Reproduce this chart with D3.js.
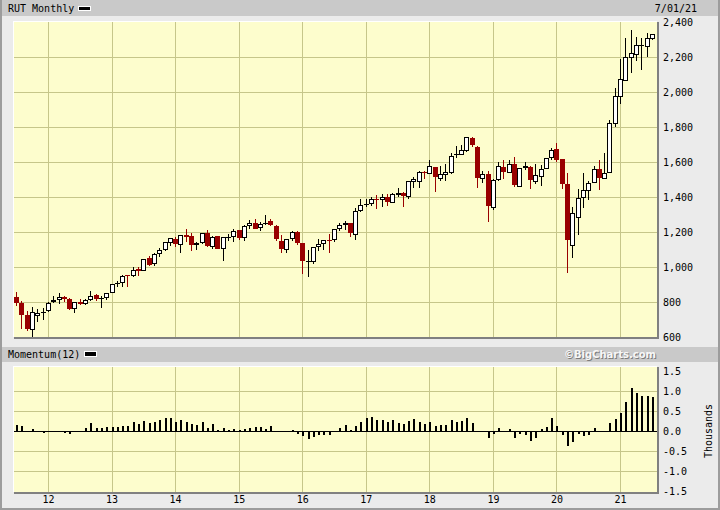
<!DOCTYPE html>
<html><head><meta charset="utf-8">
<script src="https://cdn.jsdelivr.net/npm/d3@7"></script>
<style>body{margin:0;background:#ebebeb}svg{display:block}</style>
</head><body><svg id="c" width="720" height="510"></svg>
<script>
const title = "RUT Monthly";
const dateLabel = "7/01/21";
const indicatorTitle = "Momentum(12)";
const credit = "\u00A9BigCharts.com";
const unitLabel = "Thousands";
const firstMonth = [2011, 6];   // July 2011
const lastMonth = [2021, 6];    // July 2021
const opens = [827,797,727,641,722,737,
 750,798,813,829,817,760,798,788,811,838,819,823,
 850,905,911,952,948,990,979,1053,1017,1074,1097,1139,
 1158,1126,1183,1177,1127,1135,1193,1116,1177,1101,1173,1170,
 1211,1164,1234,1250,1221,1248,1261,1234,1150,1097,1158,1202,
 1135,1030,1030,1113,1130,1154,1154,1215,1238,1250,1183,1322,
 1358,1358,1389,1383,1402,1364,1411,1425,1402,1484,1488,1541,
 1530,1570,1505,1524,1535,1638,1640,1665,1735,1688,1505,1531,
 1335,1497,1570,1535,1587,1459,1568,1570,1488,1516,1558,1621,
 1674,1615,1474,1122,1278,1393,1436,1478,1558,1501,1535,1815,
 1970,2065,2192,2211,2262,2259,2301];
const highs = [858,806,750,770,762,765,
 802,834,850,834,822,800,820,819,865,845,832,852,
 903,921,954,955,1002,1002,1045,1065,1082,1111,1142,1167,
 1170,1183,1215,1193,1145,1193,1213,1180,1180,1173,1186,1220,
 1211,1240,1266,1275,1260,1297,1273,1240,1185,1162,1205,1205,
 1135,1100,1114,1160,1154,1190,1220,1250,1264,1250,1340,1388,
 1387,1400,1411,1419,1419,1425,1450,1430,1491,1515,1550,1550,
 1611,1570,1580,1590,1650,1690,1700,1742,1742,1690,1550,1550,
 1505,1598,1610,1610,1630,1567,1600,1575,1590,1585,1625,1680,
 1707,1620,1535,1345,1444,1535,1490,1580,1610,1650,1840,2021,
 2187,2307,2354,2316,2310,2340,2330];
const lows = [777,648,636,602,686,697,
 745,793,789,798,754,737,781,781,805,806,764,812,
 850,887,885,884,941,947,979,1005,1008,1060,1090,1120,
 1115,1078,1145,1093,1100,1130,1116,1105,1101,1036,1150,1140,
 1155,1150,1220,1215,1205,1240,1234,1150,1080,1080,1148,1125,
 960,943,1015,1090,1100,1078,1140,1205,1209,1170,1154,1316,
 1345,1350,1330,1345,1351,1364,1400,1345,1390,1450,1450,1505,
 1530,1430,1490,1490,1530,1625,1640,1660,1685,1450,1478,1259,
 1326,1493,1505,1535,1455,1455,1555,1445,1475,1460,1558,1610,
 1600,1444,964,1050,1183,1335,1385,1478,1440,1501,1535,1800,
 1930,2065,2110,2175,2126,2200,2300];
const closes = [797,727,644,741,737,741,
 792,810,830,816,762,798,787,812,837,819,821,849,
 902,911,951,947,984,977,1045,1011,1074,1100,1142,1164,
 1130,1183,1173,1127,1135,1193,1120,1174,1101,1173,1173,1205,
 1165,1233,1252,1220,1247,1254,1239,1159,1101,1162,1198,1136,
 1035,1034,1114,1130,1154,1152,1220,1240,1252,1192,1322,1357,
 1362,1387,1386,1400,1370,1415,1425,1405,1491,1503,1544,1536,
 1575,1512,1529,1542,1634,1643,1671,1741,1696,1511,1533,1349,
 1499,1576,1540,1591,1466,1567,1575,1495,1523,1562,1625,1668,
 1614,1476,1153,1310,1394,1441,1480,1561,1507,1538,1820,1975,
 2073,2201,2221,2266,2268,2311,2330];
const momentum = [0.146,0.125,-0.032,0.038,0.010,-0.043,
 -0.006,-0.013,-0.014,-0.049,-0.073,-0.029,-0.010,0.085,0.193,0.078,0.084,0.108,
 0.110,0.101,0.121,0.131,0.222,0.179,0.258,0.199,0.237,0.281,0.321,0.315,
 0.228,0.272,0.222,0.180,0.151,0.216,0.075,0.163,0.027,0.073,0.031,0.041,
 0.035,0.050,0.079,0.093,0.112,0.061,0.119,-0.015,0.000,-0.011,0.025,-0.069,
 -0.130,-0.199,-0.138,-0.090,-0.093,-0.102,-0.019,0.081,0.151,0.030,0.124,0.221,
 0.327,0.353,0.272,0.270,0.216,0.263,0.205,0.165,0.239,0.311,0.222,0.179,
 0.213,0.125,0.143,0.142,0.264,0.228,0.246,0.336,0.205,0.008,-0.011,-0.187,
 -0.076,0.064,0.011,0.049,-0.168,-0.076,-0.096,-0.246,-0.173,0.051,0.092,0.319,
 0.115,-0.100,-0.387,-0.281,-0.072,-0.126,-0.095,0.066,-0.016,-0.024,0.195,0.307,
 0.459,0.725,1.068,0.956,0.874,0.870,0.850];
const priceTicks = [600,800,1000,1200,1400,1600,1800,2000,2200,2400];
const momTicks = [-1.5,-1.0,-0.5,0.0,0.5,1.0,1.5];
const yearLabels = ["12","13","14","15","16","17","18","19","20","21"];

const months = d3.timeMonth.range(new Date(firstMonth[0], firstMonth[1], 1), new Date(lastMonth[0], lastMonth[1] + 1, 1));
const key = d3.timeFormat("%Y-%m");
const data = months.map((m, i) => ({k: key(m), o: opens[i], h: highs[i], l: lows[i], c: closes[i], m: momentum[i]}));

const svg = d3.select("#c");
const FONT = "'DejaVu Sans Mono', monospace";
const gridCol = "#c6c68a";
const red = "#990000";
const plotBg = "#fdfdcd";

const P = {x0: 14, x1: 657, y0: 22, y1: 337};
const M = {x0: 14, x1: 657, y0: 367, y1: 492};

const x = d3.scalePoint().domain(data.map(d => d.k)).range([16.2, 651.8]);
const y = d3.scaleLinear().domain([600, 2400]).range([337, 22]);
const ym = d3.scaleLinear().domain([-1.5, 1.5]).range([491, 371]);

// background & frame
svg.append("rect").attr("width", 720).attr("height", 510).attr("fill", "#ebebeb");
svg.append("rect").attr("x", 0).attr("y", 0).attr("width", 2).attr("height", 510).attr("fill", "#9c9c9c");
svg.append("rect").attr("x", 718).attr("y", 0).attr("width", 2).attr("height", 510).attr("fill", "#9c9c9c");
svg.append("rect").attr("x", 0).attr("y", 508).attr("width", 720).attr("height", 2).attr("fill", "#9c9c9c");
svg.append("rect").attr("x", 2).attr("y", 0).attr("width", 716).attr("height", 16).attr("fill", "#c9c9c9");
svg.append("rect").attr("x", 2).attr("y", 347).attr("width", 716).attr("height", 15).attr("fill", "#c9c9c9");

function panel(R) {
  svg.append("rect").attr("x", R.x0 - 1).attr("y", R.y0 - 1).attr("width", R.x1 - R.x0 + 1).attr("height", R.y1 - R.y0 + 1).attr("fill", "#ffffff");
  svg.append("rect").attr("x", R.x0).attr("y", R.y1).attr("width", R.x1 - R.x0 + 2).attr("height", 2).attr("fill", "#808080");
  svg.append("rect").attr("x", R.x1).attr("y", R.y0).attr("width", 2).attr("height", R.y1 - R.y0 + 2).attr("fill", "#808080");
  svg.append("rect").attr("x", R.x0).attr("y", R.y0).attr("width", R.x1 - R.x0).attr("height", R.y1 - R.y0).attr("fill", plotBg);
}
panel(P); panel(M);

const yearKeys = yearLabels.map(s => "20" + s + "-01");

// grid main
const gMain = svg.append("g");
gMain.selectAll("line.h").data(priceTicks.filter(t => t > 600 && t < 2400)).join("line")
  .attr("x1", P.x0).attr("x2", P.x1).attr("y1", d => Math.round(y(d)) + 0.5).attr("y2", d => Math.round(y(d)) + 0.5)
  .attr("stroke", gridCol).attr("stroke-width", 1);
gMain.selectAll("line.v").data(yearKeys).join("line")
  .attr("x1", d => Math.round(x(d)) + 0.5).attr("x2", d => Math.round(x(d)) + 0.5).attr("y1", P.y0).attr("y2", P.y1)
  .attr("stroke", gridCol).attr("stroke-width", 1);

// grid momentum
const gMom = svg.append("g");
gMom.selectAll("line.h").data(momTicks.filter(t => t !== 0 && Math.abs(t) < 1.5)).join("line")
  .attr("x1", M.x0).attr("x2", M.x1).attr("y1", d => Math.round(ym(d)) + 0.5).attr("y2", d => Math.round(ym(d)) + 0.5)
  .attr("stroke", gridCol).attr("stroke-width", 1);
gMom.selectAll("line.v").data(yearKeys).join("line")
  .attr("x1", d => Math.round(x(d)) + 0.5).attr("x2", d => Math.round(x(d)) + 0.5).attr("y1", M.y0).attr("y2", M.y1)
  .attr("stroke", gridCol).attr("stroke-width", 1);

// candles
const gC = svg.append("g");
data.forEach(d => {
  const cx = Math.round(x(d.k));
  const up = d.c >= d.o;
  const col = up ? "#000" : red;
  gC.append("line").attr("x1", cx + 0.5).attr("x2", cx + 0.5)
    .attr("y1", Math.round(y(d.h))).attr("y2", Math.round(y(d.l)))
    .attr("stroke", col).attr("stroke-width", 1);
  const yt = Math.round(y(Math.max(d.o, d.c)));
  const yb = Math.round(y(Math.min(d.o, d.c)));
  if (up) {
    if (yb - yt <= 1) {
      gC.append("rect").attr("x", cx - 2).attr("y", yt).attr("width", 5).attr("height", 1).attr("fill", "#000");
    } else {
      gC.append("rect").attr("x", cx - 1.5).attr("y", yt + 0.5).attr("width", 4).attr("height", yb - yt - 1)
        .attr("fill", "#fff").attr("stroke", "#000").attr("stroke-width", 1);
    }
  } else {
    gC.append("rect").attr("x", cx - 2).attr("y", yt).attr("width", 5).attr("height", Math.max(1, yb - yt)).attr("fill", red);
  }
});

// momentum bars
const y0m = Math.round(ym(0));
svg.append("g").selectAll("rect").data(data).join("rect")
  .attr("x", d => Math.round(x(d.k)))
  .attr("width", 2)
  .attr("y", d => d.m >= 0 ? Math.round(ym(d.m)) : y0m)
  .attr("height", d => Math.abs(Math.round(ym(d.m)) - y0m))
  .attr("fill", "#000");
svg.append("rect").attr("x", M.x0).attr("y", y0m).attr("width", M.x1 - M.x0).attr("height", 1).attr("fill", "#000");

// axes labels
const txt = (g) => g.attr("font-family", FONT).attr("font-size", 10).attr("fill", "#000");
svg.append("g").call(txt).selectAll("text").data(priceTicks).join("text")
  .attr("x", 663).attr("y", d => y(d) + 4).text(d => d3.format(",")(d));
svg.append("g").call(txt).selectAll("text").data(momTicks).join("text")
  .attr("x", 663).attr("y", d => ym(d) + 4).text(d => d3.format(".1f")(d).replace("\u2212", "-"));
svg.append("g").call(txt).selectAll("text").data(yearLabels).join("text")
  .attr("x", (d, i) => x(yearKeys[i]) + 0.5).attr("y", 503).attr("text-anchor", "middle").text(d => d);
svg.append("text").call(txt).attr("transform", "translate(712,431) rotate(-90)").attr("text-anchor", "middle").text(unitLabel);

// headers
svg.append("text").call(txt).attr("x", 8).attr("y", 12).text(title);
svg.append("rect").attr("x", 78).attr("y", 6).attr("width", 13).attr("height", 5).attr("fill", "#fff");
svg.append("rect").attr("x", 79).attr("y", 7).attr("width", 11).attr("height", 3).attr("fill", "#000");
svg.append("text").call(txt).attr("x", 697).attr("y", 12).attr("text-anchor", "end").text(dateLabel);
svg.append("text").call(txt).attr("x", 8).attr("y", 358).text(indicatorTitle);
svg.append("rect").attr("x", 84).attr("y", 351).attr("width", 13).attr("height", 6).attr("fill", "#fff");
svg.append("rect").attr("x", 85).attr("y", 352).attr("width", 11).attr("height", 4).attr("fill", "#000");
const creditAttrs = (t) => t.attr("text-anchor", "end")
  .attr("font-family", "'DejaVu Sans', Verdana, sans-serif").attr("font-weight", "bold").attr("font-size", 10).text(credit);
svg.append("text").attr("x", 657).attr("y", 359).attr("fill", "#7c7c7c").call(creditAttrs);
svg.append("text").attr("x", 656).attr("y", 358).attr("fill", "#f7f7f7").call(creditAttrs);
</script></body></html>
